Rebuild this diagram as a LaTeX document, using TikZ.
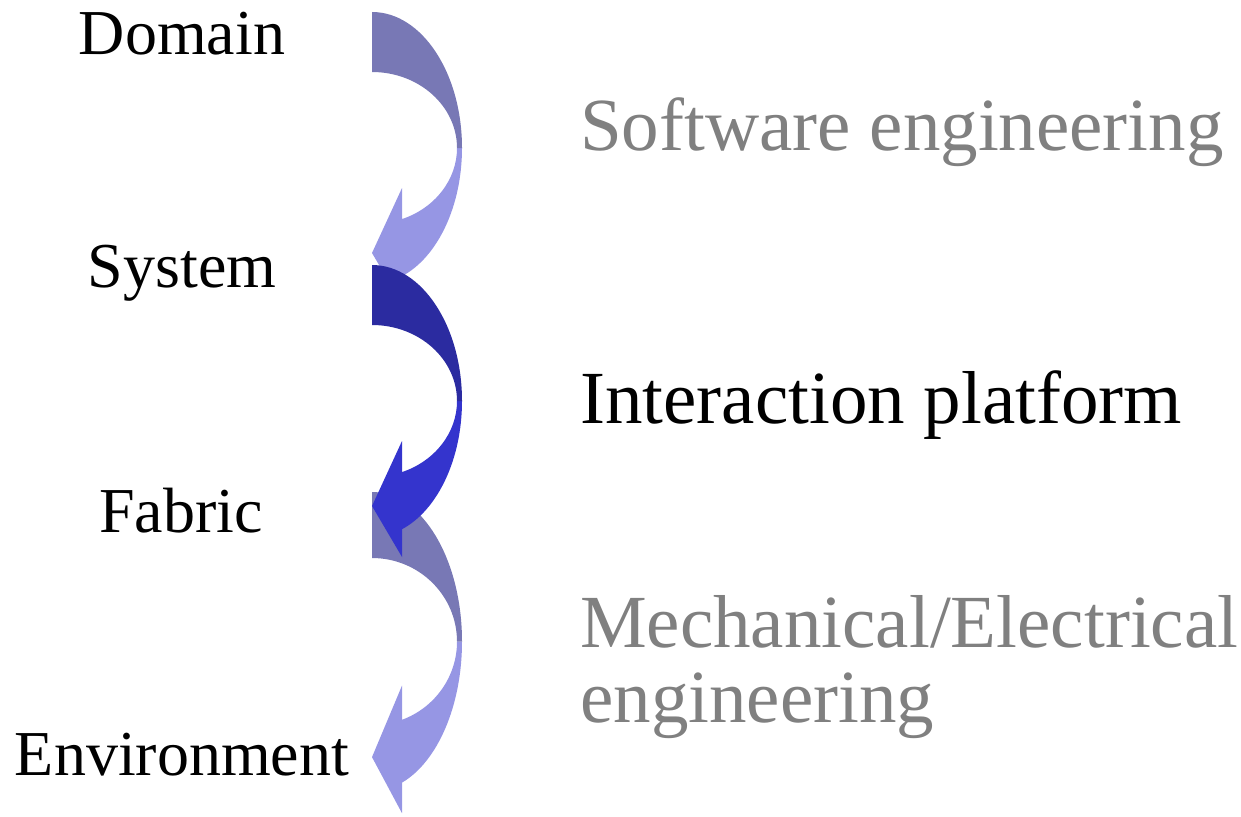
\documentclass[tikz,border=0pt]{standalone}
\usepackage{fontspec}
\setmainfont{Liberation Serif}

\definecolor{paleback}{RGB}{120,120,181}
\definecolor{palefront}{RGB}{150,150,228}
\definecolor{deepback}{RGB}{43,43,160}
\definecolor{deepfront}{RGB}{52,52,205}
\definecolor{mutedtext}{RGB}{128,128,128}

% Curved "down-left" arrow: back band (top) and front band with head.
% #1 = origin (left end of the top band), #2 = vertical stretch,
% #3 = back colour, #4 = front colour
\newcommand\bendarrow[4]{%
  \begin{scope}[shift={#1}, yscale=#2]
    % front band and arrowhead
    \fill[#4] (90,136) arc[start angle=0, end angle=70.53, x radius=90, y radius=136]
      -- (30,292) -- (0,241) -- (30,176)
      -- (30,207.1) arc[start angle=69.33, end angle=0, x radius=85, y radius=76]
      -- cycle;
    % back band
    \fill[#3] (0,0) arc[start angle=-90, end angle=0, x radius=90, y radius=136]
      -- (85,136) arc[start angle=0, end angle=-90, x radius=85, y radius=76]
      -- cycle;
  \end{scope}}

\begin{document}
\begin{tikzpicture}[x=1pt, y=-1pt,
  levellabel/.style={inner sep=0pt, anchor=base, font=\fontsize{64}{64}\selectfont},
  fieldlabel/.style={inner sep=0pt, anchor=base west, font=\fontsize{75}{75}\selectfont},
  mutedfield/.style={fieldlabel, text=mutedtext}]
  \useasboundingbox (0,0) rectangle (1241,816);

  % arrows between the levels (the middle one lies on top)
  \bendarrow{(372,12)}{1}{paleback}{palefront}
  \bendarrow{(372,492)}{1.1}{paleback}{palefront}
  \bendarrow{(372,265)}{1}{deepback}{deepfront}

  % levels
  \node[levellabel] (domain) at (182,55) {Domain};
  \node[levellabel] (system) at (182,287) {System};
  \node[levellabel] (fabric) at (181,532) {Fabric};
  \node[levellabel] (environment) at (182,775) {Environment};

  % disciplines
  \node[mutedfield] (software) at (580,150) {Software engineering};
  \node[fieldlabel] (interaction) at (580,423) {Interaction platform};
  \node[mutedfield] (mechanical) at (580,647) {Mechanical/Electrical};
  \node[mutedfield] (mechanical2) at (580,722) {engineering};
\end{tikzpicture}
\end{document}
